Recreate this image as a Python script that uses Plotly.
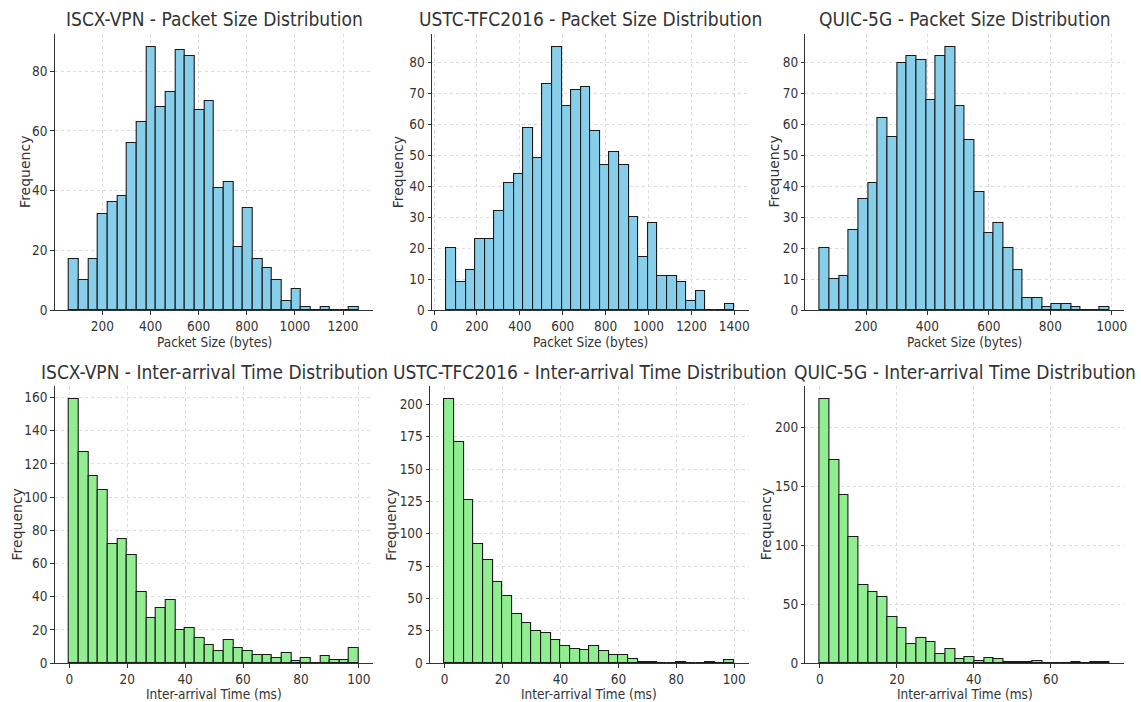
import numpy as np
import plotly.graph_objects as go

# ---------------- data ----------------
datasets = ["ISCX-VPN", "USTC-TFC2016", "QUIC-5G"]

# packet size histograms (30 bins each): bin range and counts
ps_bin_range = {
    "ISCX-VPN": (62, 1266),
    "USTC-TFC2016": (58, 1400),
    "QUIC-5G": (50, 993),
}
ps_counts = {
    "ISCX-VPN": [17, 10, 17, 32, 36, 38, 56, 63, 88, 68, 73, 87, 85, 67, 70,
                 41, 43, 21, 34, 17, 14, 10, 3, 7, 1, 0, 1, 0, 0, 1],
    "USTC-TFC2016": [20, 9, 13, 23, 23, 32, 41, 44, 59, 49, 73, 85, 66, 71, 72,
                     58, 47, 51, 47, 30, 17, 28, 11, 11, 9, 3, 6, 0, 0, 2],
    "QUIC-5G": [20, 10, 11, 26, 36, 41, 62, 56, 80, 82, 81, 68, 82, 85, 66,
                55, 38, 25, 28, 20, 13, 4, 4, 1, 2, 2, 1, 0, 0, 1],
}

# inter-arrival time histograms (30 bins each)
iat_bin_range = {
    "ISCX-VPN": (0, 100),
    "USTC-TFC2016": (0, 100),
    "QUIC-5G": (0, 75.3),
}
iat_counts = {
    "ISCX-VPN": [159, 127, 113, 104, 72, 75, 65, 43, 27, 33, 38, 20, 21, 15, 11,
                 7, 14, 9, 7, 5, 5, 3, 6, 1, 3, 0, 4, 2, 2, 9],
    "USTC-TFC2016": [204, 171, 126, 92, 80, 63, 52, 38, 31, 25, 23, 18, 13, 11, 10,
                     13, 9, 6, 6, 3, 1, 1, 0, 0, 1, 0, 0, 1, 0, 2],
    "QUIC-5G": [224, 172, 143, 107, 66, 60, 56, 39, 30, 16, 21, 18, 8, 12, 3,
                5, 2, 4, 3, 1, 1, 1, 2, 0, 0, 0, 1, 0, 1, 1],
}

ps_xticks = {
    "ISCX-VPN": [0, 200, 400, 600, 800, 1000, 1200],
    "USTC-TFC2016": [0, 200, 400, 600, 800, 1000, 1200, 1400],
    "QUIC-5G": [200, 400, 600, 800, 1000],
}
ps_yticks = {
    "ISCX-VPN": [0, 20, 40, 60, 80],
    "USTC-TFC2016": [0, 10, 20, 30, 40, 50, 60, 70, 80],
    "QUIC-5G": [0, 10, 20, 30, 40, 50, 60, 70, 80],
}
iat_xticks = {
    "ISCX-VPN": [0, 20, 40, 60, 80, 100],
    "USTC-TFC2016": [0, 20, 40, 60, 80, 100],
    "QUIC-5G": [0, 20, 40, 60],
}
iat_yticks = {
    "ISCX-VPN": [0, 20, 40, 60, 80, 100, 120, 140, 160],
    "USTC-TFC2016": [0, 25, 50, 75, 100, 125, 150, 175, 200],
    "QUIC-5G": [0, 50, 100, 150, 200],
}

# ---------------- layout ----------------
W, H = 1141, 702          # reference canvas (layout coordinates)
H_FIG = 710               # rendered figure height
FONT = "DejaVu Sans Condensed, DejaVu Sans"
FONT_V = "DejaVu Sans"
TXT = "#333333"
BLUE = "#87CEEB"
GREEN = "#90EE90"

# plot boxes in reference pixels: (left, right, top, bottom)
row1_boxes = [(53, 373, 34, 310), (432, 750, 34, 310), (807, 1127, 34, 310)]
row2_boxes = [(53, 373, 386, 663), (430, 750, 386, 663), (807, 1127, 386, 663)]
ylab_offsets_r1 = [30, 34, 32]
ylab_offsets_r2 = [38, 40, 40]

fig = go.Figure()
annotations = []


def add_panel(idx, box, rng, counts, color, xticks, yticks, title, xlabel, ylab_off, title_y, xlab_y):
    left, right, top, bottom = box
    lo, hi = rng
    n = len(counts)
    edges = np.linspace(lo, hi, n + 1)
    centers = (edges[:-1] + edges[1:]) / 2
    width = edges[1] - edges[0]
    xa = "x" if idx == 1 else f"x{idx}"
    ya = "y" if idx == 1 else f"y{idx}"
    fig.add_trace(go.Bar(
        x=centers, y=counts, width=width,
        marker=dict(color=color, line=dict(color="#1a1a1a", width=1.1)),
        xaxis=xa, yaxis=ya, showlegend=False, hoverinfo="x+y",
    ))
    span = hi - lo
    xr = [lo - 0.05 * span, hi + 0.05 * span]
    yr = [0, max(counts) * 1.05]
    axis_common = dict(
        showline=True, linecolor="#333333", linewidth=1.2,
        ticks="outside", ticklen=3.5, tickcolor="#333333", tickwidth=1,
        showgrid=True, gridcolor="#dcdcdc", griddash="dot", gridwidth=1,
        zeroline=False, tickfont=dict(family=FONT, size=13.5, color=TXT),
        mirror=False,
    )
    xkey = "xaxis" if idx == 1 else f"xaxis{idx}"
    ykey = "yaxis" if idx == 1 else f"yaxis{idx}"
    fig.update_layout(**{
        xkey: dict(axis_common, domain=[left / W, right / W], range=xr,
                   tickvals=xticks, anchor=ya),
        ykey: dict(axis_common, domain=[1 - bottom / H, 1 - top / H], range=yr,
                   tickvals=yticks, anchor=xa),
    })
    cx = (left + right) / 2 / W
    annotations.append(dict(text=title, x=cx, y=1 - title_y / H, xref="paper", yref="paper",
                            showarrow=False, xanchor="center", yanchor="middle",
                            font=dict(family=FONT, size=19, color=TXT)))
    annotations.append(dict(text=xlabel, x=cx, y=1 - xlab_y / H, xref="paper", yref="paper",
                            showarrow=False, xanchor="center", yanchor="middle",
                            borderpad=0,
                            font=dict(family=FONT, size=13.5, color=TXT)))
    annotations.append(dict(text="Frequency", x=(left - ylab_off) / W, y=1 - (top + bottom) / 2 / H,
                            xref="paper", yref="paper", textangle=-90,
                            showarrow=False, xanchor="center", yanchor="middle",
                            font=dict(family=FONT_V, size=14, color=TXT)))


for i, name in enumerate(datasets):
    add_panel(i + 1, row1_boxes[i], ps_bin_range[name], ps_counts[name], BLUE,
              ps_xticks[name], ps_yticks[name],
              f"{name} - Packet Size Distribution", "Packet Size (bytes)",
              ylab_offsets_r1[i], 19, 342)
for i, name in enumerate(datasets):
    add_panel(i + 4, row2_boxes[i], iat_bin_range[name], iat_counts[name], GREEN,
              iat_xticks[name], iat_yticks[name],
              f"{name} - Inter-arrival Time Distribution", "Inter-arrival Time (ms)",
              ylab_offsets_r2[i], 372, 694)

fig.update_layout(
    width=W, height=H_FIG, margin=dict(l=0, r=0, t=0, b=0),
    paper_bgcolor="white", plot_bgcolor="white",
    annotations=annotations, bargap=0,
    font=dict(family=FONT, color=TXT),
)

fig.write_html(
    "out.html",
    config={"displayModeBar": False},
    post_script=(
        "document.documentElement.style.margin='0';"
        "document.documentElement.style.overflow='hidden';"
        "document.body.style.margin='0';"
        "document.body.style.overflow='hidden';"
        "var gd=document.getElementById('{plot_id}');"
        "gd.style.position='fixed';gd.style.left='0px';gd.style.top='0px';"
    ),
)
